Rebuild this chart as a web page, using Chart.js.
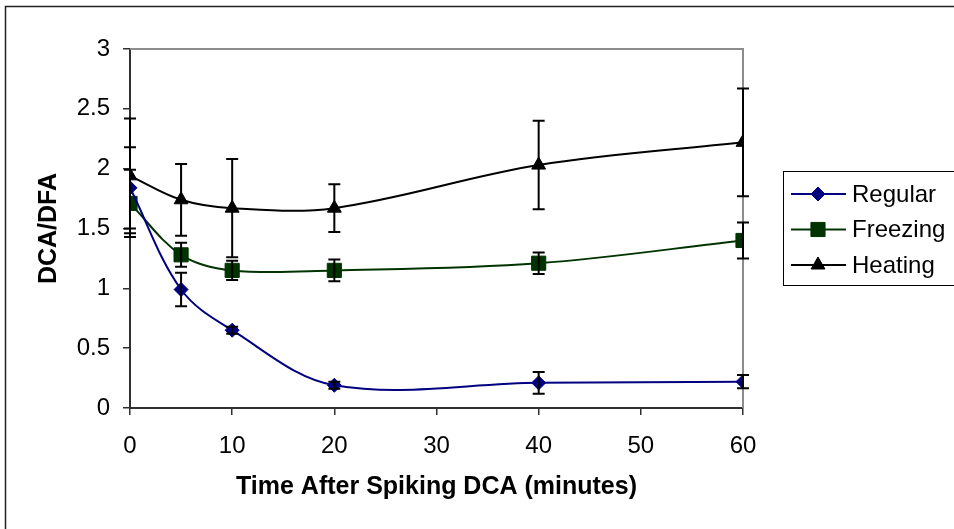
<!DOCTYPE html>
<html>
<head>
<meta charset="utf-8">
<script src="https://cdn.jsdelivr.net/npm/chart.js@4"></script>
<style>
  html, body { margin: 0; padding: 0; background: #fff; }
  #wrap { width: 954px; height: 529px; position: relative; }
</style>
</head>
<body>
<div id="wrap"><canvas id="chart" width="954" height="529"></canvas></div>
<script>

const times = [0, 5, 10, 20, 40, 60]

const regular = [1.84, 0.99, 0.65, 0.19, 0.21, 0.22]
const regularErr = [0.34, 0.14, 0.03, 0.03, 0.09, 0.055]

const freezing = [1.71, 1.28, 1.15, 1.15, 1.21, 1.40]
const freezingErr = [0.28, 0.10, 0.08, 0.09, 0.09, 0.15]

const heating = [1.94, 1.74, 1.67, 1.67, 2.03, 2.22]
const heatingErr = [0.48, 0.30, 0.41, 0.20, 0.37, 0.45]

const seriesNames = ["Regular", "Freezing", "Heating"]
const xTitle = "Time After Spiking DCA (minutes)"
const yTitle = "DCA/DFA"

const FONT = "'Liberation Sans', Arial, sans-serif"

Chart.defaults.font.family = FONT
Chart.defaults.color = "#000"

function pts(values){
    return times.map((t,i)=>({x:t, y:values[i]}))
}

// frame round the whole chart and the gray top/right edge of the plot
const framePlugin = {
    id:"frame",
    beforeDraw(chart){
        const ctx = chart.ctx
        ctx.save()
        ctx.fillStyle = "#fff"
        ctx.fillRect(0,0,chart.width,chart.height)
        ctx.strokeStyle = "#222"
        ctx.lineWidth = 1.5
        ctx.strokeRect(5.5,6.5,chart.width+20,chart.height+20)
        ctx.restore()
    },
    beforeDatasetsDraw(chart){
        const {left,top,right,bottom} = chart.chartArea
        const ctx = chart.ctx
        ctx.save()
        ctx.strokeStyle = "#8c8c8c"
        ctx.lineWidth = 2
        ctx.beginPath()
        ctx.moveTo(left,top)
        ctx.lineTo(right,top)
        ctx.lineTo(right,bottom)
        ctx.stroke()
        ctx.restore()
    }
}

// error bars, from each dataset's errors list
const errorBarPlugin = {
    id:"errorBars",
    afterDatasetsDraw(chart){
        const ctx = chart.ctx
        const yScale = chart.scales.y
        ctx.save()
        ctx.strokeStyle = "#000"
        ctx.lineWidth = 2
        chart.data.datasets.forEach((ds,i)=>{
            const meta = chart.getDatasetMeta(i)
            meta.data.forEach((el,j)=>{
                const v = ds.data[j].y
                const e = ds.errors[j]
                const yt = yScale.getPixelForValue(v+e)
                const yb = yScale.getPixelForValue(v-e)
                ctx.beginPath()
                ctx.moveTo(el.x,yt)
                ctx.lineTo(el.x,yb)
                ctx.moveTo(el.x-6,yt)
                ctx.lineTo(el.x+6,yt)
                ctx.moveTo(el.x-6,yb)
                ctx.lineTo(el.x+6,yb)
                ctx.stroke()
            })
        })
        ctx.restore()
    }
}

// boxed legend on the right, like the spreadsheet one
const legendPlugin = {
    id:"boxLegend",
    afterDraw(chart){
        const ctx = chart.ctx
        const bx = 783.5, by = 171.5, bw = 200, bh = 114
        ctx.save()
        ctx.strokeStyle = "#000"
        ctx.lineWidth = 1
        ctx.strokeRect(bx,by,bw,bh)
        chart.data.datasets.forEach((ds,i)=>{
            const y = 194 + i*35.5
            ctx.strokeStyle = ds.borderColor
            ctx.lineWidth = 2
            ctx.beginPath()
            ctx.moveTo(791,y)
            ctx.lineTo(846,y)
            ctx.stroke()
            ctx.fillStyle = ds.pointBackgroundColor
            ctx.strokeStyle = ds.pointBorderColor
            ctx.lineWidth = 1
            Chart.helpers.drawPoint(ctx,{
                pointStyle:ds.pointStyle,
                radius:ds.pointRadius,
                rotation:0,
                borderWidth:1
            },818,y)
            ctx.fillStyle = "#000"
            ctx.font = "24px " + FONT
            ctx.textBaseline = "middle"
            ctx.textAlign = "left"
            ctx.fillText(ds.label,852,y+1)
        })
        ctx.restore()
    }
}

const colors = ["#000080", "#003300", "#000000"]
const styles = ["rectRot", "rect", "triangle"]
const radii = [7, 10, 8]
const values = [regular, freezing, heating]
const errors = [regularErr, freezingErr, heatingErr]

const datasets = seriesNames.map((name,i)=>({
    label:name,
    data:pts(values[i]),
    errors:errors[i],
    borderColor:colors[i],
    borderWidth:2,
    pointStyle:styles[i],
    pointRadius:radii[i],
    pointBackgroundColor:colors[i],
    pointBorderColor:colors[i],
    pointBorderWidth:1,
    tension:0.35,
    fill:false
}))

new Chart(document.getElementById("chart"),{
    type:"line",
    data:{datasets:datasets},
    options:{
        responsive:false,
        animation:false,
        layout:{padding:{top:49, right:211, bottom:0, left:0}},
        plugins:{
            legend:{display:false},
            tooltip:{enabled:false}
        },
        scales:{
            x:{
                type:"linear",
                min:0,
                max:60,
                afterFit(scale){ scale.height = 121 },
                ticks:{stepSize:10, padding:17, font:{size:24}, color:"#000", maxRotation:0},
                grid:{display:true, drawOnChartArea:false, drawTicks:true, tickLength:7, color:"#303030", lineWidth:1.5},
                border:{display:true, color:"#303030", width:2},
                title:{display:true, text:xTitle, font:{size:25, weight:"bold"}, color:"#000", padding:{top:0,bottom:27}}
            },
            y:{
                min:0,
                max:3,
                afterFit(scale){ scale.width = 130 },
                ticks:{stepSize:0.5, padding:13, font:{size:24}, color:"#000", callback:(v)=>String(Number(v))},
                grid:{display:true, drawOnChartArea:false, drawTicks:true, tickLength:7, color:"#303030", lineWidth:1.5},
                border:{display:true, color:"#303030", width:2},
                title:{display:true, text:yTitle, font:{size:25, weight:"bold"}, color:"#000", padding:{top:34,bottom:0}}
            }
        }
    },
    plugins:[framePlugin, errorBarPlugin, legendPlugin]
})
</script>
</body>
</html>
